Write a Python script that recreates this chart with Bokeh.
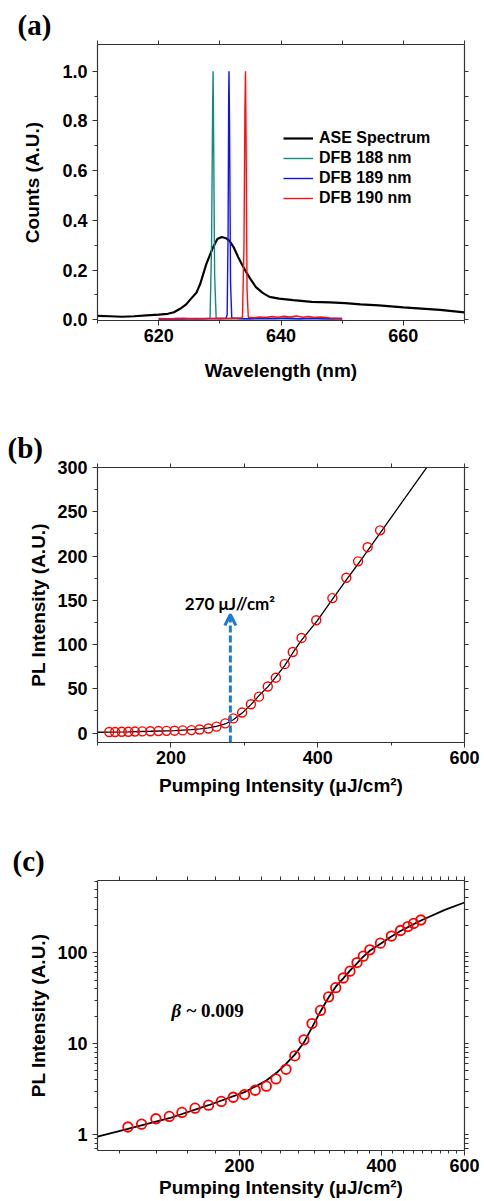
from bokeh.plotting import figure
from bokeh.layouts import column
from bokeh.models import (FixedTicker, LinearAxis, LogAxis, PrintfTickFormatter, Range1d,
                          Legend, LegendItem, Label, Arrow, OpenHead)
from bokeh.embed import file_html
from bokeh.resources import INLINE

# ---------------- data: panel (a) ----------------
ase_x = [610, 612, 614, 616, 618, 620, 621.5, 622.5, 623.5, 624.5, 625.3, 626.2, 626.8,
         627.8, 628.9, 629.6, 630.3, 631.0, 631.6, 632.3, 633.0, 633.7, 634.3, 635.1,
         635.9, 637.0, 638.1, 639.7, 642, 645, 648, 650.5, 653, 656, 660, 663, 666, 670]
ase_y = [0.016, 0.014, 0.012, 0.014, 0.018, 0.021, 0.024, 0.030, 0.044, 0.062, 0.085,
         0.110, 0.145, 0.225, 0.292, 0.325, 0.333, 0.328, 0.317, 0.290, 0.252, 0.218,
         0.192, 0.160, 0.131, 0.108, 0.092, 0.085, 0.079, 0.072, 0.070, 0.067, 0.062,
         0.058, 0.050, 0.045, 0.040, 0.030]

dfb188_x = [620.0, 621.5, 623.0, 624.5, 626.0, 627.5, 628.4, 628.65, 628.82, 628.9, 628.98,
            629.15, 629.4, 630.5, 632.0, 634.0, 636.0, 638.0, 640.0, 642.0, 644.0, 646.0,
            648.0, 650.0]
dfb188_y = [0.004, 0.003, 0.005, 0.004, 0.003, 0.004, 0.006, 0.30, 0.85, 1.00, 0.75,
            0.18, 0.006, 0.004, 0.005, 0.003, 0.004, 0.005, 0.004, 0.003, 0.004, 0.005,
            0.003, 0.004]

dfb189_x = [620.0, 622.0, 624.0, 626.0, 628.0, 630.0, 631.0, 631.2, 631.35, 631.45, 631.5,
            631.58, 631.75, 631.95, 633.0, 635.0, 637.0, 639.0, 641.0, 643.0, 645.0, 647.0,
            649.0, 650.0]
dfb189_y = [0.003, 0.004, 0.003, 0.005, 0.004, 0.004, 0.006, 0.02, 0.35, 0.90, 1.00,
            0.80, 0.15, 0.007, 0.005, 0.004, 0.006, 0.005, 0.007, 0.004, 0.006, 0.004,
            0.005, 0.003]

dfb190_x = [620.0, 622.0, 624.0, 626.0, 628.0, 630.0, 632.0, 633.7, 633.95, 634.1, 634.2,
            634.3, 634.45, 634.65, 635.5, 636.5, 637.5, 638.5, 639.5, 640.5, 641.5, 642.5,
            643.5, 644.5, 645.5, 646.5, 648.0, 650.0]
dfb190_y = [0.005, 0.004, 0.006, 0.004, 0.005, 0.006, 0.005, 0.008, 0.30, 0.85, 1.00,
            0.70, 0.12, 0.010, 0.008, 0.011, 0.009, 0.013, 0.010, 0.014, 0.011, 0.015,
            0.010, 0.013, 0.009, 0.011, 0.007, 0.006]

# ---------------- data: panels (b), (c) ----------------
pump = [116, 124, 133, 142, 151, 161, 172, 183, 194, 205, 216, 228, 239, 251, 262, 274,
        285, 297, 309, 320, 332, 343, 355, 366, 378, 398, 420, 439, 455, 468, 485]
pl = [1.21, 1.30, 1.49, 1.58, 1.75, 1.95, 2.10, 2.31, 2.57, 2.75, 3.07, 3.40, 4.09, 5.22,
      7.33, 11.0, 16.6, 23.2, 32.6, 41.2, 52.7, 62.6, 77.9, 91.6, 107.5, 127.5, 152.5,
      175.5, 194.0, 210.0, 229.0]

fit_x = [100, 116, 142, 172, 205, 228, 240, 251, 262, 274, 285, 297, 309, 320, 332, 343,
         355, 366, 378, 399, 419, 439, 455, 485, 545, 600]
fit_y = [0.95, 1.15, 1.51, 2.10, 2.92, 3.92, 4.80, 5.98, 7.57, 10.3, 15.1, 22.6, 32.2,
         42.3, 52.2, 63.5, 76.3, 90.5, 105.0, 126.5, 150.0, 173.0, 191.0, 226.0, 296.0,
         357.0]

a_xticks = [620, 640, 660]
a_yticks = [0.0, 0.2, 0.4, 0.6, 0.8, 1.0]
b_xticks = [200, 400, 600]
b_yticks = [0, 50, 100, 150, 200, 250, 300]
c_xticks = [200, 400, 600]
c_yticks = [1, 10, 100]

SANS = "Liberation Sans"
SERIF = "Liberation Serif"
AX = "#333333"


def style_axis(ax, ticker, fmt=None):
    ax.ticker = ticker
    if fmt is not None:
        ax.formatter = PrintfTickFormatter(format=fmt)
    ax.axis_line_color = AX
    ax.axis_line_width = 1.2
    ax.major_tick_line_color = AX
    ax.minor_tick_line_color = AX
    ax.major_tick_out = 5
    ax.major_tick_in = 0
    ax.minor_tick_out = 3
    ax.minor_tick_in = 0
    ax.major_label_text_font = SANS
    ax.major_label_text_font_style = "bold"
    ax.major_label_text_font_size = "18px"
    ax.major_label_text_color = "black"
    ax.axis_label_text_font = SANS
    ax.axis_label_text_font_style = "bold"
    ax.axis_label_text_font_size = "19px"
    ax.axis_label_text_color = "black"


def make_fig(h, xr, yr, top, bottom, right, tag, tag_offset,
             xtype="linear", ytype="linear"):
    p = figure(width=484, height=h, x_range=xr, y_range=yr,
               x_axis_type=xtype, y_axis_type=ytype,
               output_backend="svg", toolbar_location=None,
               min_border_left=97, min_border_right=right,
               min_border_top=top, min_border_bottom=bottom)
    p.outline_line_color = None
    p.xgrid.visible = False
    p.ygrid.visible = False
    p.background_fill_color = "white"
    p.title.text = tag
    p.title.text_font = SERIF
    p.title.text_font_style = "bold"
    p.title.text_font_size = "29px"
    p.title.text_color = "black"
    p.title.align = "left"
    p.title.offset = tag_offset
    p.title.standoff = 0
    return p


def add_mirror(p, xticks, xminor, yticks, yminor, log=False):
    # mirrored frame axes: ticks only (all as unlabeled minor ticks)
    for side, ticks, minor in (("above", xticks, xminor), ("right", yticks, yminor)):
        ax = LogAxis() if log else LinearAxis()
        ax.ticker = FixedTicker(ticks=[], minor_ticks=sorted(list(ticks) + list(minor)))
        ax.axis_line_color = AX
        ax.axis_line_width = 1.2
        ax.minor_tick_line_color = AX
        ax.minor_tick_out = 4
        ax.minor_tick_in = 0
        ax.major_tick_out = 0
        ax.major_label_standoff = 0
        p.add_layout(ax, side)


# ================= panel (a) =================
pa = make_fig(400, Range1d(610, 670), Range1d(-0.003, 1.1075), top=44, bottom=80, right=16,
              tag="(a)", tag_offset=-80)
a_xminor = [610, 630, 650, 670]
a_yminor = [0.1, 0.3, 0.5, 0.7, 0.9]
style_axis(pa.xaxis[0], FixedTicker(ticks=a_xticks, minor_ticks=a_xminor), "%d")
style_axis(pa.yaxis[0], FixedTicker(ticks=a_yticks, minor_ticks=a_yminor), "%.1f")
pa.xaxis[0].axis_label = "Wavelength (nm)"
pa.yaxis[0].axis_label = "Counts (A.U.)"
pa.xaxis[0].major_label_standoff = 3
pa.xaxis[0].axis_label_standoff = 15
pa.yaxis[0].major_label_standoff = 5
pa.yaxis[0].axis_label_standoff = 16
add_mirror(pa, a_xticks, a_xminor, a_yticks, a_yminor)

r_ase = pa.line(ase_x, ase_y, line_color="black", line_width=2.2)
r188 = pa.line(dfb188_x, dfb188_y, line_color="#138a80", line_width=1.4)
r189 = pa.line(dfb189_x, dfb189_y, line_color="#1010ff", line_width=1.4)
r190 = pa.line(dfb190_x, dfb190_y, line_color="#ff1010", line_width=1.4)

leg = Legend(items=[LegendItem(label="ASE Spectrum", renderers=[r_ase]),
                    LegendItem(label="DFB 188 nm", renderers=[r188]),
                    LegendItem(label="DFB 189 nm", renderers=[r189]),
                    LegendItem(label="DFB 190 nm", renderers=[r190])],
             location=(186, 112), padding=0, margin=0, spacing=0,
             glyph_width=30, glyph_height=20, label_height=20, label_standoff=6,
             border_line_color=None, background_fill_alpha=0,
             label_text_font=SANS, label_text_font_style="bold",
             label_text_font_size="16px", label_text_color="black")
pa.add_layout(leg)

# ================= panel (b) =================
pb = make_fig(405, Range1d(100, 600), Range1d(-10.6, 300), top=67, bottom=63, right=16,
              tag="(b)", tag_offset=-90)
b_xminor = [100, 300, 500]
b_yminor = [25, 75, 125, 175, 225, 275]
style_axis(pb.xaxis[0], FixedTicker(ticks=b_xticks, minor_ticks=b_xminor), "%d")
style_axis(pb.yaxis[0], FixedTicker(ticks=b_yticks, minor_ticks=b_yminor), "%d")
pb.xaxis[0].axis_label = "Pumping Intensity (\u03bcJ/cm\u00b2)"
pb.yaxis[0].axis_label = "PL Intensity (A.U.)"
pb.xaxis[0].major_label_standoff = 3
pb.xaxis[0].axis_label_standoff = 8
pb.yaxis[0].major_label_standoff = 5
pb.yaxis[0].axis_label_standoff = 5
add_mirror(pb, b_xticks, b_xminor, b_yticks, b_yminor)

pb.line(fit_x, fit_y, line_color="black", line_width=1.3)
pb.scatter(pump, pl, marker="circle", size=9, fill_color=None, line_color="#ff0000",
           line_width=1.4)
pb.add_layout(Arrow(end=OpenHead(size=11, line_color="#1f7ccc", line_width=3),
                    x_start=281, y_start=-10.6, x_end=281, y_end=134,
                    line_color="#1f7ccc", line_width=3, line_dash="7 3"))
pb.add_layout(Label(x=218.9, y=146.3, text="270 \u03bcJ//cm\u00b2", text_font="Lato",
                    text_font_style="bold", text_font_size="17px", text_color="black",
                    text_baseline="alphabetic"))

# ================= panel (c) =================
pc = make_fig(396, Range1d(100, 600), Range1d(0.667, 623), top=75, bottom=51, right=20,
              tag="(c)", tag_offset=-85, xtype="log", ytype="log")
c_xminor = [200.0 * k / 9 for k in range(5, 27) if k % 9 != 0]
c_yminor = [m * 10.0 ** e for e in (-1, 0, 1, 2) for m in range(2, 10)]
style_axis(pc.xaxis[0], FixedTicker(ticks=c_xticks, minor_ticks=c_xminor), "%d")
style_axis(pc.yaxis[0], FixedTicker(ticks=c_yticks, minor_ticks=c_yminor), "%d")
pc.xaxis[0].axis_label = "Pumping Intensity (\u03bcJ/cm\u00b2)"
pc.yaxis[0].axis_label = "PL Intensity (A.U.)"
pc.xaxis[0].major_label_standoff = 3
pc.xaxis[0].axis_label_standoff = 2
pc.yaxis[0].major_label_standoff = 5
pc.yaxis[0].axis_label_standoff = 5
add_mirror(pc, c_xticks, c_xminor, c_yticks, c_yminor, log=True)

pc.line(fit_x, fit_y, line_color="black", line_width=1.8)
pc.scatter(pump, pl, marker="circle", size=9.5, fill_color=None, line_color="#ff0000",
           line_width=1.8)
pc.add_layout(Label(x=143.6, y=23, text="\u03b2", text_font=SERIF,
                    text_font_style="bold italic", text_font_size="19px",
                    text_color="black", text_baseline="middle"))
pc.add_layout(Label(x=154.4, y=23, text="~ 0.009", text_font=SERIF,
                    text_font_style="bold", text_font_size="19px",
                    text_color="black", text_baseline="middle"))

layout = column(pa, pb, pc, spacing=0)
open("out.html", "w").write(file_html(layout, INLINE))
